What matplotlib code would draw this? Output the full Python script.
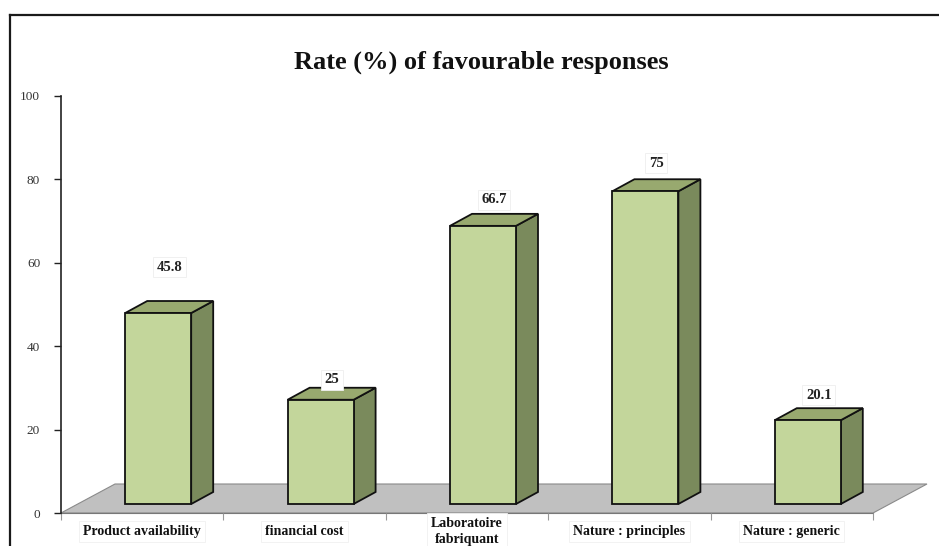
import numpy as np
import matplotlib
matplotlib.use('Agg')
import matplotlib.pyplot as plt
from matplotlib.patches import Polygon
from matplotlib.lines import Line2D

# data
categories = ['Product availability', 'financial cost', 'Laboratoire\nfabriquant',
              'Nature : principles', 'Nature : generic']
rates = [45.8, 25, 66.7, 75, 20.1]
value_labels = ['45.8', '25', '66.7', '75', '20.1']
yticks = [0, 20, 40, 60, 80, 100]

# extra lift of each value label above its bar (pixels)
label_lift = [34, 8, 14, 16, 13]

front_col = '#c3d69b'
top_col = '#98a96f'
side_col = '#7a8a5c'
floor_col = '#c0c0c0'

W, H = 939, 546
fig = plt.figure(figsize=(W / 100, H / 100), dpi=100)
ax = fig.add_axes([61 / W, 1 - 513 / H, (873 - 61) / W, (513 - 96) / H])
ax.set_xlim(0, 5)
ax.set_ylim(0, 100)

px_x = 5 / (873 - 61)     # data units per pixel, x
px_y = 100 / (513 - 96)   # data units per pixel, y

# 3d look: floor depth, bar depth, bar offset into the floor
floor_dx, floor_dy = 54 * px_x, 29 * px_y
bar_dx, bar_dy = 22 * px_x, 12 * px_y
off_x, off_y = 16 * px_x, 9 * px_y
bar_w = 66 * px_x

n = len(categories)
floor = Polygon([(0, 0), (n, 0), (n + floor_dx, floor_dy), (floor_dx, floor_dy)],
                closed=True, facecolor=floor_col, edgecolor='#8a8a8a', lw=0.8,
                clip_on=False, zorder=1)
ax.add_patch(floor)

centers = np.arange(n) + 0.5
ax.bar(centers + off_x, rates, width=bar_w, bottom=off_y, color=front_col,
       edgecolor='#111111', linewidth=1.3, zorder=3)

for c, v in zip(centers, rates):
    xl = c + off_x - bar_w / 2
    xr = c + off_x + bar_w / 2
    yb = off_y
    yt = off_y + v
    side = Polygon([(xr, yb), (xr + bar_dx, yb + bar_dy), (xr + bar_dx, yt + bar_dy), (xr, yt)],
                   closed=True, facecolor=side_col, edgecolor='#111111', lw=1.3, zorder=2)
    top = Polygon([(xl, yt), (xl + bar_dx, yt + bar_dy), (xr + bar_dx, yt + bar_dy), (xr, yt)],
                  closed=True, facecolor=top_col, edgecolor='#111111', lw=1.3, zorder=2)
    ax.add_patch(side)
    ax.add_patch(top)

for c, v, lab, lift in zip(centers, rates, value_labels, label_lift):
    ax.annotate(lab, (c + off_x + bar_dx / 2, off_y + v + bar_dy), xytext=(0, lift * 0.72),
                textcoords='offset points', ha='center', va='center',
                fontfamily='Liberation Serif', fontweight='bold', fontsize=10.5, color='#222222',
                bbox=dict(boxstyle='square,pad=0.25', fc='white', ec='#eeeeee', lw=0.6),
                zorder=5)

# axes styling
for s in ['top', 'right']:
    ax.spines[s].set_visible(False)
ax.spines['left'].set_color('#222222')
ax.spines['left'].set_linewidth(1.2)
ax.spines['bottom'].set_color('#777777')
ax.spines['bottom'].set_linewidth(0.8)
ax.spines['bottom'].set_zorder(1.5)

ax.set_yticks(yticks)
ax.set_yticklabels([str(t) for t in yticks], fontfamily='Liberation Serif', fontsize=9.5,
                   color='#333333')
ax.tick_params(axis='y', direction='out', length=5, width=1, color='#222222', pad=10)

ax.set_xticks(centers)
ax.set_xticklabels(categories, fontfamily='Liberation Serif', fontweight='bold', fontsize=10,
                   color='#111111', va='center', linespacing=1.3)
for t in ax.get_xticklabels():
    t.set_bbox(dict(boxstyle='square,pad=0.3', fc='white', ec='#f0f0f0', lw=0.6))
ax.tick_params(axis='x', length=0, pad=13.5)
ax.set_xticks(np.arange(n + 1), minor=True)
ax.tick_params(axis='x', which='minor', direction='out', length=5, width=0.8, color='#999999')

fig.text(481 / W, 1 - 62 / H, 'Rate (%) of favourable responses', ha='center', va='center',
         fontfamily='Liberation Serif', fontweight='bold', fontsize=19, color='#111111')

# outer frame (left and top edges)
fig.add_artist(Line2D([10 / W, 10 / W], [0, 1 - 15 / H], transform=fig.transFigure,
                      color='#1a1a1a', lw=1.6))
fig.add_artist(Line2D([10 / W, 1], [1 - 15 / H, 1 - 15 / H], transform=fig.transFigure,
                      color='#1a1a1a', lw=1.6))

fig.savefig('out.png', dpi=100)
